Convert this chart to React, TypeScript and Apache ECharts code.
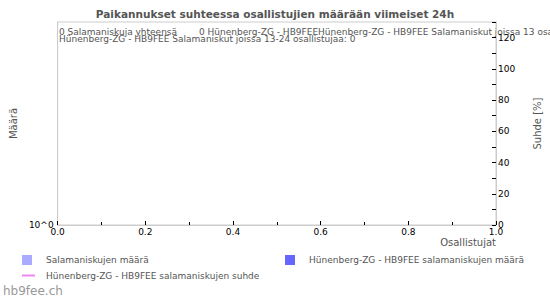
import React, { useEffect, useRef } from "react";
import * as echarts from "echarts";

const TITLE = "Paikannukset suhteessa osallistujien määrään viimeiset 24h";
const SERIES_NAMES = [
  "Salamaniskujen määrä",
  "Hünenberg-ZG - HB9FEE salamaniskujen määrä",
  "Hünenberg-ZG - HB9FEE salamaniskujen suhde",
];
const SERIES_COLORS = ["#aaaaff", "#6666ff", "#ee88ee"];
// No strikes in the last 24h: all series are empty
const totalCounts: [number, number][] = [];
const stationCounts: [number, number][] = [];
const stationRatio: [number, number][] = [];
const INFO_LINE1 = [
  "0 Salamaniskuja yhteensä",
  "0 Hünenberg-ZG - HB9FEE",
  "Hünenberg-ZG - HB9FEE Salamaniskut joissa 13 osallistujaa: 0",
];
const INFO_LINE2 = "Hünenberg-ZG - HB9FEE Salamaniskut joissa 13-24 osallistujaa: 0";
const X_NAME = "Osallistujat";
const Y_LEFT_NAME = "Määrä";
const Y_RIGHT_NAME = "Suhde [%]";
const WATERMARK = "hb9fee.ch";

const FONT = "DejaVu Sans, sans-serif";

export default function App() {
  const ref = useRef<HTMLDivElement>(null);
  useEffect(() => {
    if (!ref.current) return;
    document.body.style.margin = "0";
    const chart = echarts.init(ref.current, undefined, { renderer: "svg" });
    const legendBase = {
      orient: "horizontal" as const,
      textStyle: { color: "#555", fontSize: 9, fontFamily: FONT, padding: [0, 0, 0, 9] },
      itemWidth: 10,
      itemHeight: 10,
      icon: "rect",
    };
    chart.setOption({
      animation: false,
      title: {
        text: TITLE,
        left: "center",
        top: 3,
        textStyle: { color: "#555", fontSize: 10.5, fontWeight: "bold", fontFamily: FONT },
      },
      grid: {
        left: 50,
        right: 50,
        top: 22,
        bottom: 75,
        show: true,
        borderColor: "#ccc",
        borderWidth: 1,
      },
      legend: [
        { ...legendBase, data: [SERIES_NAMES[0]], left: 17, top: 250 },
        { ...legendBase, data: [SERIES_NAMES[1]], left: 280, top: 250 },
        {
          ...legendBase,
          data: [SERIES_NAMES[2]],
          left: 17,
          top: 266,
          itemWidth: 13,
          itemHeight: 2,
          textStyle: { ...legendBase.textStyle, padding: [0, 0, 0, 6] },
        },
      ],
      xAxis: {
        type: "value",
        min: 0,
        max: 1,
        interval: 0.2,
        name: X_NAME,
        nameLocation: "end",
        nameGap: 0,
        nameTextStyle: {
          color: "#555",
          fontSize: 10,
          fontFamily: FONT,
          align: "right",
          verticalAlign: "top",
          padding: [12, 0, 0, 0],
        },
        axisLine: { lineStyle: { color: "#ccc" } },
        axisTick: { inside: true, length: 4, lineStyle: { color: "#000" } },
        minorTick: { show: true, splitNumber: 2, length: 3, lineStyle: { color: "#000" } },
        axisLabel: {
          color: "#000",
          fontSize: 9,
          fontFamily: FONT,
          margin: 2,
          formatter: (v: number) => v.toFixed(1),
        },
        splitLine: { show: false },
      },
      yAxis: [
        {
          type: "value",
          min: 0,
          max: 1,
          interval: 1,
          position: "left",
          name: Y_LEFT_NAME,
          nameLocation: "middle",
          nameGap: 38,
          nameTextStyle: { color: "#555", fontSize: 10, fontFamily: FONT },
          axisLine: { show: true, lineStyle: { color: "#ccc" } },
          axisTick: { show: false },
          axisLabel: {
            color: "#000",
            fontSize: 9,
            fontFamily: FONT,
            margin: 4,
            verticalAlign: "middle",
            formatter: (v: number) => (v === 0 ? "10^0" : ""),
          },
          splitLine: { show: false },
        },
        {
          type: "value",
          min: 0,
          max: 130,
          interval: 20,
          position: "right",
          name: Y_RIGHT_NAME,
          nameLocation: "middle",
          nameGap: 36,
          nameTextStyle: { color: "#555", fontSize: 10, fontFamily: FONT },
          axisLine: { show: true, lineStyle: { color: "#ccc" } },
          axisTick: { show: true, inside: true, length: 4, lineStyle: { color: "#000" } },
          minorTick: { show: true, splitNumber: 2, length: 4, lineStyle: { color: "#000" } },
          axisLabel: {
            color: "#000",
            fontSize: 9,
            fontFamily: FONT,
            margin: 2,
            showMaxLabel: false,
            verticalAlign: "middle",
            formatter: (v: number) => (v > 120 ? "" : String(v)),
          },
          splitLine: { show: false },
        },
      ],
      series: [
        {
          name: SERIES_NAMES[0],
          type: "bar",
          yAxisIndex: 0,
          data: totalCounts,
          itemStyle: { color: SERIES_COLORS[0] },
        },
        {
          name: SERIES_NAMES[1],
          type: "bar",
          yAxisIndex: 0,
          data: stationCounts,
          itemStyle: { color: SERIES_COLORS[1] },
        },
        {
          name: SERIES_NAMES[2],
          type: "line",
          yAxisIndex: 1,
          data: stationRatio,
          itemStyle: { color: SERIES_COLORS[2] },
          lineStyle: { color: SERIES_COLORS[2] },
        },
      ],
      graphic: [
        {
          type: "text",
          x: 59,
          y: 27,
          style: { text: INFO_LINE1[0], fill: "#555", fontSize: 9, fontFamily: FONT },
        },
        {
          type: "text",
          x: 199,
          y: 27,
          style: { text: INFO_LINE1[1], fill: "#555", fontSize: 9, fontFamily: FONT },
        },
        {
          type: "text",
          x: 318,
          y: 27,
          style: { text: INFO_LINE1[2], fill: "#555", fontSize: 9, fontFamily: FONT },
        },
        {
          type: "text",
          x: 59,
          y: 34,
          style: { text: INFO_LINE2, fill: "#555", fontSize: 9, fontFamily: FONT },
        },
        {
          type: "text",
          x: 3,
          y: 285,
          style: { text: WATERMARK, fill: "#999", fontSize: 12, fontFamily: FONT },
        },
      ],
    });
    return () => chart.dispose();
  }, []);
  return <div ref={ref} style={{ width: 550, height: 300 }} />;
}
